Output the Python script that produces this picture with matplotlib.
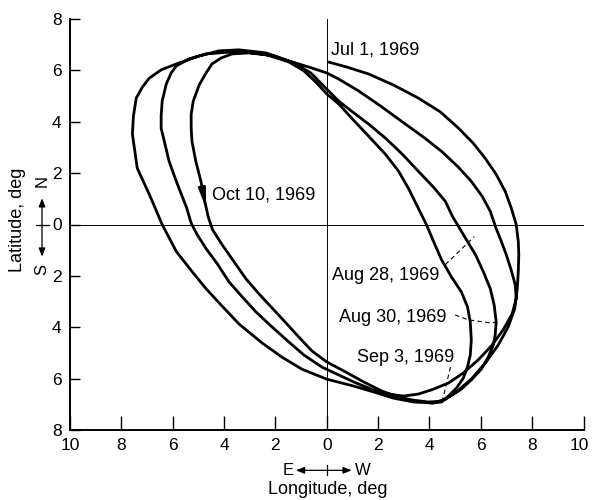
import numpy as np
import matplotlib
matplotlib.use("Agg")
import matplotlib.pyplot as plt

plt.rcParams['font.family'] = ['Liberation Sans', 'DejaVu Sans']

# ground track (longitude deg, + = W ; latitude deg, + = N)
# Jul 1 start, outer right arc down to the bottom
jul1_lon = [0.05, 0.78, 1.63, 2.60, 3.57, 4.43, 5.13, 5.71, 6.17, 6.60, 6.95, 7.18, 7.38,
            7.46, 7.48, 7.46, 7.42, 7.32, 7.07, 6.68, 6.21, 5.63, 5.13, 4.62, 4.16]
jul1_lat = [6.33, 6.13, 5.86, 5.43, 4.92, 4.38, 3.75, 3.16, 2.58, 1.95, 1.29, 0.66, 0.0,
            -0.66, -1.17, -1.84, -2.50, -3.28, -3.98, -4.69, -5.35, -6.02, -6.45, -6.80, -6.95]

# outer left arc, bottom -> top -> x=0
left1_lon = [3.38, 2.60, 1.83, 1.05, 0.00, -0.97, -1.75, -2.52, -3.42, -4.12, -4.70, -5.24,
             -5.86, -6.41, -6.91, -7.38, -7.57, -7.53, -7.42, -7.18, -6.91, -6.45, -5.86,
             -4.97, -4.19, -3.42, -2.37, -1.48, -0.70, 0.00]
left1_lat = [-6.91, -6.76, -6.52, -6.29, -6.02, -5.63, -5.16, -4.61, -3.87, -3.13, -2.50, -1.84,
             -1.05, 0.00, 1.17, 2.19, 3.52, 4.22, 4.92, 5.35, 5.70, 6.02, 6.25,
             6.56, 6.76, 6.80, 6.68, 6.37, 6.13, 5.90]

right2_lon = [0.47, 1.24, 2.10, 2.91, 3.77, 4.47, 5.13, 5.63, 6.06, 6.37, 6.60, 6.80, 6.99,
              7.18, 7.34, 7.38, 7.22, 6.87, 6.41, 5.90, 5.32, 4.74, 4.16, 3.57, 2.99]
right2_lat = [5.66, 5.20, 4.61, 4.02, 3.40, 2.85, 2.23, 1.68, 1.09, 0.51, -0.16, -0.66, -1.17,
              -1.76, -2.34, -2.89, -3.48, -4.10, -4.73, -5.27, -5.78, -6.17, -6.41, -6.60, -6.68]

left2_lon = [2.41, 1.83, 1.05, 0.39, -0.19, -0.89, -1.48, -2.14, -2.76, -3.30, -3.81, -4.27,
             -4.70, -5.05, -5.28, -5.46, -5.86, -6.14, -6.33, -6.45, -6.45, -6.41, -6.25,
             -6.06, -5.86, -5.36, -4.70, -3.69, -2.83, -2.06, -1.28, -0.62, 0.00]
left2_lat = [-6.60, -6.45, -6.13, -5.82, -5.55, -5.08, -4.57, -3.98, -3.40, -2.81, -2.23, -1.52,
             -0.94, -0.39, 0.05, 0.66, 1.68, 2.46, 3.24, 3.75, 4.22, 4.80, 5.47,
             5.90, 6.17, 6.45, 6.64, 6.72, 6.68, 6.56, 6.29, 5.90, 5.27]

right3_lon = [0.47, 0.97, 1.63, 2.29, 2.95, 3.57, 4.16, 4.62, 4.90, 5.18, 5.48, 5.79, 6.10,
              6.37, 6.52, 6.60, 6.56, 6.49, 6.29, 6.02, 5.63, 5.24, 4.82, 4.47, 3.96]
right3_lat = [4.80, 4.41, 3.91, 3.36, 2.73, 2.07, 1.45, 0.90, 0.31, -0.16, -0.66, -1.17, -1.84,
              -2.50, -3.13, -3.79, -4.30, -4.69, -5.16, -5.63, -6.05, -6.41, -6.68, -6.88, -6.91]

# inner left arc (Oct 10)
left3_lon = [3.38, 2.80, 2.14, 1.44, 0.66, 0.00, -0.58, -1.09, -1.59, -2.14, -2.64, -3.15,
             -3.61, -4.08, -4.45, -4.62, -4.75, -4.90, -5.10, -5.25, -5.28, -5.28, -5.20,
             -4.97, -4.70, -4.47, -4.12, -3.69, -3.03, -2.33, -1.48, -0.89, -0.39, 0.00]
left3_lat = [-6.84, -6.72, -6.48, -6.13, -5.70, -5.35, -4.92, -4.38, -3.83, -3.24, -2.70, -2.11,
             -1.45, -0.78, -0.20, 0.31, 0.90, 1.68, 2.46, 3.24, 3.75, 4.30, 4.80,
             5.43, 5.90, 6.25, 6.48, 6.64, 6.68, 6.60, 6.33, 5.98, 5.51, 5.08]

right4_lon = [0.47, 0.97, 1.63, 2.29, 2.80, 3.18, 3.57, 3.88, 4.16, 4.47, 4.85, 5.24, 5.48,
              5.59, 5.63, 5.59, 5.48, 5.32, 5.05, 4.74, 4.47, 4.04]
right4_lat = [4.69, 4.14, 3.44, 2.73, 2.07, 1.41, 0.62, 0.0, -0.66, -1.37, -2.03, -2.62, -3.20,
              -3.79, -4.49, -5.08, -5.55, -5.98, -6.37, -6.68, -6.91, -6.95]

track_lon = np.concatenate([jul1_lon, left1_lon, right2_lon, left2_lon, right3_lon, left3_lon, right4_lon])
track_lat = np.concatenate([jul1_lat, left1_lat, right2_lat, left2_lat, right3_lat, left3_lat, right4_lat])

# date labels: text, left x, baseline y
date_labels = ["Jul 1, 1969", "Aug 28, 1969", "Aug 30, 1969", "Sep 3, 1969", "Oct 10, 1969"]
label_x = [0.15, 0.19, 0.47, 1.17, -4.47]
label_y = [6.60, -2.15, -3.79, -5.35, 0.98]

# dashed leader lines
leader_aug28 = ([4.62, 5.75], [-1.56, -0.47])
leader_aug30 = ([5.00, 5.50, 6.37, 6.76], [-3.52, -3.71, -3.83, -3.79])
leader_sep3 = ([4.82, 4.47], [-5.55, -6.99])

ticks = list(range(-10, 11, 2))
yticks = list(range(-8, 9, 2))

fig = plt.figure(figsize=(5.92, 5.0), dpi=100)
ax = fig.add_axes([70/592, 70/500, 513.5/592, 411/500])
ax.set_xlim(-10, 10)
ax.set_ylim(-8, 8)

for s in ['top', 'right']:
    ax.spines[s].set_visible(False)
for s in ['left', 'bottom']:
    ax.spines[s].set_linewidth(1.4)

ax.axhline(0, color='black', lw=0.7)
ax.axvline(0, color='black', lw=0.7)

ax.plot(track_lon, track_lat, color='black', lw=2.0, solid_joinstyle='round', solid_capstyle='butt')

for lead in [leader_aug28, leader_aug30, leader_sep3]:
    ax.plot(lead[0], lead[1], color='black', lw=0.8, dashes=(4, 3))

for t, x, y in zip(date_labels, label_x, label_y):
    ax.text(x, y, t, fontsize=13, ha='left', va='baseline')

# Oct 10 arrowhead on the inner curve
ax.annotate('', xy=(-4.70, 0.62), xytext=(-4.86, 1.45),
            arrowprops=dict(arrowstyle='-|>,head_length=1.2,head_width=0.22',
                            color='black', lw=1.5, shrinkA=0, shrinkB=0))

# tick labels show absolute degrees; the last x label is placed by hand so it stays inside
ax.set_xticks(ticks)
ax.set_xticklabels([str(abs(t)) for t in ticks[:-1]] + [''])
ax.set_yticks(yticks)
ax.set_yticklabels([str(abs(t)) for t in yticks])
ax.tick_params(axis='x', direction='in', length=10, width=1, pad=6, labelsize=12.5)
ax.tick_params(axis='y', direction='in', length=7, width=1, pad=6, labelsize=12.5)
ax.text(10.22, -8.3, str(ticks[-1]), fontsize=12.5, ha='right', va='top', clip_on=False)

# N / S arrow
ax.annotate('', xy=(-11.09, 1.02), xytext=(-11.09, -1.25),
            arrowprops=dict(arrowstyle='<|-|>,head_length=0.5,head_width=0.2',
                            color='black', lw=0.9, shrinkA=0, shrinkB=0),
            annotation_clip=False)
ax.plot([-11.32, -10.83], [0, 0], color='black', lw=0.9, clip_on=False)
ax.text(-11.09, 1.70, 'N', rotation=90, ha='center', va='center', fontsize=12)
ax.text(-11.09, -1.75, 'S', rotation=90, ha='center', va='center', fontsize=12)

# E / W arrow
ax.annotate('', xy=(0.97, -9.57), xytext=(-1.20, -9.57),
            arrowprops=dict(arrowstyle='<|-|>,head_length=0.5,head_width=0.2',
                            color='black', lw=0.9, shrinkA=0, shrinkB=0),
            annotation_clip=False)
ax.plot([0, 0], [-9.37, -9.77], color='black', lw=0.9, clip_on=False)
ax.text(-1.51, -9.57, 'E', ha='center', va='center', fontsize=12)
ax.text(1.40, -9.57, 'W', ha='center', va='center', fontsize=12)

fig.text(18/592, 1 - 220/500, 'Latitude, deg', rotation=90, ha='center', va='center', fontsize=13)
fig.text(328/592, 1 - 489/500, 'Longitude, deg', ha='center', va='center', fontsize=13)

fig.savefig('out.png', dpi=100)
